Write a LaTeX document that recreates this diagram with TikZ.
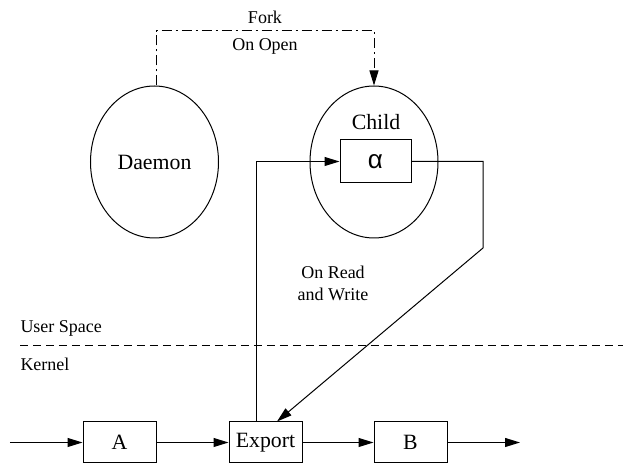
\documentclass[tikz,border=0pt]{standalone}
\usepackage{fontspec}
\setmainfont{Liberation Serif}
\newfontfamily\greekfont{Liberation Sans}
\usepackage{tikz}
\usetikzlibrary{shapes.geometric,arrows.meta}

\begin{document}
\begin{tikzpicture}[x=0.5pt, y=-0.5pt, line width=0.5pt,
        bigtext/.style = {font=\fontsize{10.9}{13}\selectfont},
        smalltext/.style = {font=\fontsize{9}{11}\selectfont},
        proc/.style = {draw, ellipse, minimum width=64pt, minimum height=76pt, inner sep=0pt, bigtext},
        box/.style = {draw, rectangle, minimum width=36.5pt, minimum height=20.5pt, inner sep=0pt, bigtext},
        flow/.style = {-{Triangle[length=7.5pt, width=4.5pt]}},
        forkline/.style = {flow, dash pattern=on 5pt off 2pt on 1pt off 2pt}]
        \useasboundingbox (0,0) rectangle (623,465);
        \node[proc] (daemon) at (154.5,162) {Daemon};
        \node[proc] (child) at (374,162) {};
        \node[bigtext] (childlabel) at (376,122) {Child};
        \node[draw, rectangle, minimum width=35.5pt, minimum height=21.5pt, inner sep=0pt, font=\fontsize{13}{15}\selectfont\greekfont] (alpha) at (375.5,161.5) {α};
        \node[box] (nodeA) at (119.5,442.5) {A};
        \node[box] (export) at (265.5,442.5) {Export};
        \node[box] (nodeB) at (410.5,442.5) {B};
        \coordinate (in) at (10,442.5);
        \coordinate (out) at (520,442.5);
        \coordinate (forkL) at (156,31);
        \coordinate (forkR) at (374,31);
        \coordinate (bend) at (483,248);
        \coordinate (lineL) at (20,346);
        \coordinate (lineR) at (623,346);
        \draw[forkline] (daemon.north -| forkL) -- (forkL) -- node[above, smalltext] {Fork} node[below, smalltext] {On Open} (forkR) -- (child.north);
        \draw[flow] ([xshift=-4.75pt]export.north) |- (alpha.west);
        \draw[flow] (alpha.east) -| (bend) -- ([xshift=5.75pt]export.north);
        \node[smalltext, align=center] (rwlabel) at (333,283) {On Read\\and Write};
        \draw[dashed, dash pattern=on 4pt off 2.5pt] (lineL) -- (lineR);
        \node[smalltext, anchor=west, inner sep=0pt] (user) at (20,328) {User Space};
        \node[smalltext, anchor=west, inner sep=0pt] (kernel) at (20,364) {Kernel};
        \draw[flow] (in) -- (nodeA);
        \draw[flow] (nodeA) -- (export);
        \draw[flow] (export) -- (nodeB);
        \draw[flow] (nodeB) -- (out);
\end{tikzpicture}
\end{document}
